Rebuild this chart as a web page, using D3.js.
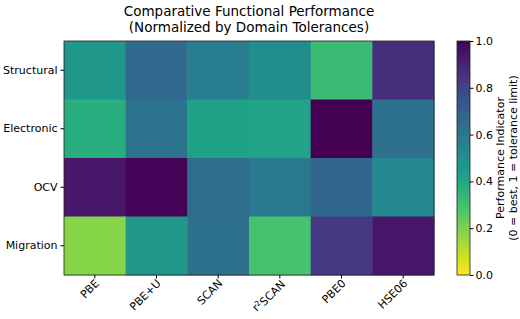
<!DOCTYPE html>
<html>
<head>
<meta charset="utf-8">
<script src="https://cdn.jsdelivr.net/npm/d3@7"></script>
<style>
  body { margin: 0; background: #fff; }
  svg text { font-family: "DejaVu Sans", sans-serif; fill: #000; }
  .axis path, .axis line { stroke: #000; }
</style>
</head>
<body>
<div id="chart"></div>
<script>
// data
var functionals = ["PBE", "PBE+U", "SCAN", "r2SCAN", "PBE0", "HSE06"];
var domains = ["Structural", "Electronic", "OCV", "Migration"];
var structural = [0.47, 0.66, 0.58, 0.51, 0.32, 0.87];
var electronic = [0.37, 0.62, 0.43, 0.42, 1.00, 0.63];
var ocv        = [0.94, 0.99, 0.65, 0.60, 0.67, 0.53];
var migration  = [0.18, 0.47, 0.63, 0.29, 0.83, 0.94];
var cbTicks = [0.0, 0.2, 0.4, 0.6, 0.8, 1.0];

var rows = [structural, electronic, ocv, migration];
var cells = [];
rows.forEach(function(r, i) {
  r.forEach(function(v, j) {
    cells.push({row: domains[i], col: functionals[j], value: v});
  });
});

var svgWidth = 520, svgHeight = 319;
var margin = {top: 41, left: 64};
var width = 370, height = 234;

var svg = d3.select('#chart').append('svg')
  .attr('width', svgWidth)
  .attr('height', svgHeight);

// title
svg.append('text')
  .attr('x', 249).attr('y', 16)
  .attr('text-anchor', 'middle')
  .style('font-size', '13.5px')
  .text('Comparative Functional Performance');
svg.append('text')
  .attr('x', 249).attr('y', 31.5)
  .attr('text-anchor', 'middle')
  .style('font-size', '13.5px')
  .text('(Normalized by Domain Tolerances)');

var color = function(v) { return d3.interpolateViridis(1 - v); };

var x = d3.scaleBand().domain(functionals).range([0, width]);
var y = d3.scaleBand().domain(domains).range([0, height]);

var g = svg.append('g')
  .attr('transform', 'translate(' + margin.left + ',' + margin.top + ')');

g.selectAll('rect.cell')
  .data(cells)
  .enter()
  .append('rect')
  .attr('class', 'cell')
  .attr('x', function(d) { return x(d.col); })
  .attr('y', function(d) { return y(d.row); })
  .attr('width', x.bandwidth() + 0.5)
  .attr('height', y.bandwidth() + 0.5)
  .attr('fill', function(d) { return color(d.value); });

// frame
g.append('rect')
  .attr('width', width).attr('height', height)
  .attr('fill', 'none').attr('stroke', '#222').attr('stroke-width', 0.8);

// y axis
var yAxis = g.append('g')
  .attr('class', 'axis')
  .call(d3.axisLeft(y).tickSize(3.5).tickPadding(3));
yAxis.select('.domain').remove();
yAxis.selectAll('text').style('font-size', '11px');

// x axis
var xAxis = g.append('g')
  .attr('class', 'axis')
  .attr('transform', 'translate(0,' + height + ')')
  .call(d3.axisBottom(x).tickSize(3.5));
xAxis.select('.domain').remove();
xAxis.selectAll('text')
  .style('font-size', '11px')
  .attr('text-anchor', 'end')
  .attr('dy', null)
  .attr('y', 0)
  .attr('transform', 'translate(5,9) rotate(-45)')
  .each(function(d) {
    if (d === 'r2SCAN') {
      var t = d3.select(this).text('');
      t.append('tspan').text('r');
      t.append('tspan').attr('dy', '-0.4em').style('font-size', '7.5px').text('2');
      t.append('tspan').attr('dy', '0.4em').text('SCAN');
    }
  });

// colorbar
var cbX = 457, cbW = 13;
var cbScale = d3.scaleLinear().domain([0, 1]).range([margin.top + height, margin.top]);
var defs = svg.append('defs');
var grad = defs.append('linearGradient')
  .attr('id', 'cbgrad')
  .attr('x1', 0).attr('y1', 1).attr('x2', 0).attr('y2', 0);
d3.range(0, 1.0001, 0.05).forEach(function(t) {
  grad.append('stop').attr('offset', t).attr('stop-color', color(t));
});
svg.append('rect')
  .attr('x', cbX).attr('y', margin.top)
  .attr('width', cbW).attr('height', height)
  .attr('fill', 'url(#cbgrad)')
  .attr('stroke', '#222').attr('stroke-width', 0.8);

var cbAxis = svg.append('g')
  .attr('class', 'axis')
  .attr('transform', 'translate(' + (cbX + cbW) + ',0)')
  .call(d3.axisRight(cbScale).tickValues(cbTicks).tickFormat(d3.format('.1f')).tickSize(3.5).tickPadding(2));
cbAxis.select('.domain').remove();
cbAxis.selectAll('text').style('font-size', '11px');

var labelY = margin.top + height / 2;
svg.append('text')
  .attr('transform', 'translate(504,' + labelY + ') rotate(-90)')
  .attr('text-anchor', 'middle')
  .style('font-size', '11px')
  .text('Performance Indicator');
svg.append('text')
  .attr('transform', 'translate(517,' + labelY + ') rotate(-90)')
  .attr('text-anchor', 'middle')
  .style('font-size', '11px')
  .text('(0 = best, 1 = tolerance limit)');
</script>
</body>
</html>
